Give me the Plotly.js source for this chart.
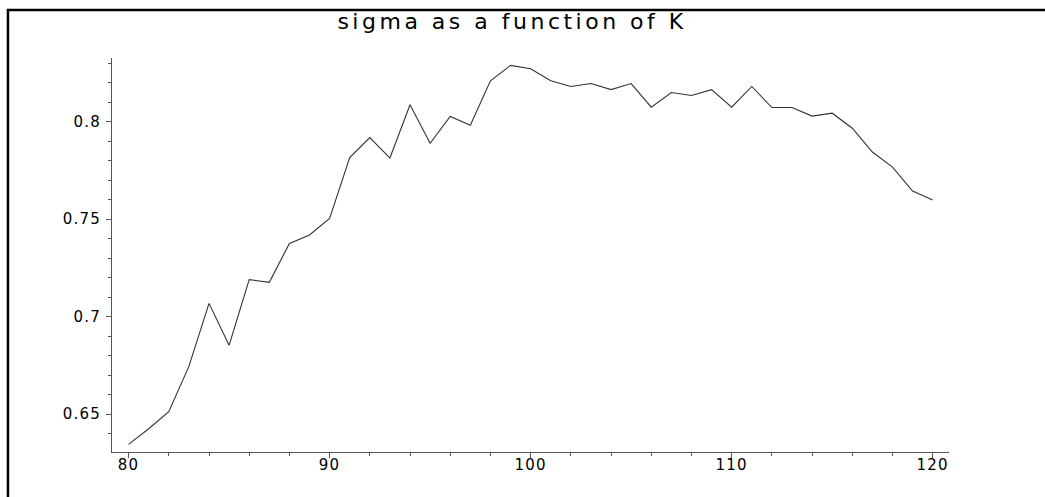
<!DOCTYPE html>
<html>
<head>
<meta charset="utf-8">
<script src="https://cdn.plot.ly/plotly-3.0.1.min.js"></script>
<style>
  html, body { margin: 0; padding: 0; background: #ffffff; }
  #chart { width: 1045px; height: 497px; }
  .xtick text, .ytick text { letter-spacing: 1.2px; }
  .gtitle { letter-spacing: 3.5px; }
</style>
</head>
<body>
<div id="chart"></div>
<script>
// K values
const K = [80, 81, 82, 83, 84, 85, 86, 87, 88, 89,
           90, 91, 92, 93, 94, 95, 96, 97, 98, 99,
           100, 101, 102, 103, 104, 105, 106, 107, 108, 109,
           110, 111, 112, 113, 114, 115, 116, 117, 118, 119, 120];
// sigma values
const sigma = [0.6345, 0.6425, 0.6513, 0.6745, 0.7068, 0.6853, 0.7190, 0.7176, 0.7375, 0.7419,
               0.7504, 0.7815, 0.7918, 0.7813, 0.8086, 0.7889, 0.8026, 0.7981, 0.8209, 0.8288,
               0.8271, 0.8209, 0.8180, 0.8195, 0.8164, 0.8195, 0.8074, 0.8149, 0.8134, 0.8164,
               0.8074, 0.8180, 0.8072, 0.8072, 0.8028, 0.8043, 0.7966, 0.7844, 0.7767, 0.7644, 0.7598];
const xTickVals = [80, 90, 100, 110, 120];
const yTickVals = [0.65, 0.7, 0.75, 0.8];
const yTickText = ['0.65', '0.7', '0.75', '0.8'];
const titleText = 'sigma as a function of K';

const trace = {
  x: K, y: sigma, type: 'scatter', mode: 'lines',
  line: { color: '#333333', width: 1.1 },
  hoverinfo: 'skip'
};

const axisCommon = {
  showgrid: false, zeroline: false, showline: true,
  linecolor: '#555555', linewidth: 1,
  ticks: 'outside', ticklen: 5, tickcolor: '#555555', tickwidth: 1,
  tickfont: { family: 'DejaVu Sans', size: 15, color: '#000000' },
  fixedrange: true
};

const layout = {
  width: 1045, height: 497,
  margin: { l: 112, r: 96, t: 58, b: 45, pad: 0 },
  paper_bgcolor: '#ffffff', plot_bgcolor: '#ffffff',
  showlegend: false,
  title: {
    text: titleText,
    font: { family: 'DejaVu Sans', size: 22, color: '#000000' },
    xref: 'paper', x: 0.478, xanchor: 'center',
    yref: 'container', y: 1 - 21 / 497, yanchor: 'middle'
  },
  xaxis: Object.assign({}, axisCommon, {
    range: [79.175, 120.81],
    tickmode: 'array', tickvals: xTickVals, ticktext: xTickVals.map(String),
    ticklabelstandoff: -6,
    minor: { dtick: 2, tick0: 80, ticks: 'outside', ticklen: 3, tickcolor: '#555555', tickwidth: 1, showgrid: false }
  }),
  yaxis: Object.assign({}, axisCommon, {
    range: [0.6306, 0.8326],
    tickmode: 'array', tickvals: yTickVals, ticktext: yTickText,
    ticklabelstandoff: 2,
    minor: { dtick: 0.01, tick0: 0.6, ticks: 'outside', ticklen: 3, tickcolor: '#555555', tickwidth: 1, showgrid: false }
  }),
  shapes: [{
    type: 'path', xref: 'paper', yref: 'paper',
    path: 'M -0.1243 -0.3 L -0.1243 1.1218 L 1.3 1.1218',
    line: { color: '#000000', width: 2.5 }
  }]
};

Plotly.newPlot('chart', [trace], layout, { staticPlot: true, displayModeBar: false });
</script>
</body>
</html>
